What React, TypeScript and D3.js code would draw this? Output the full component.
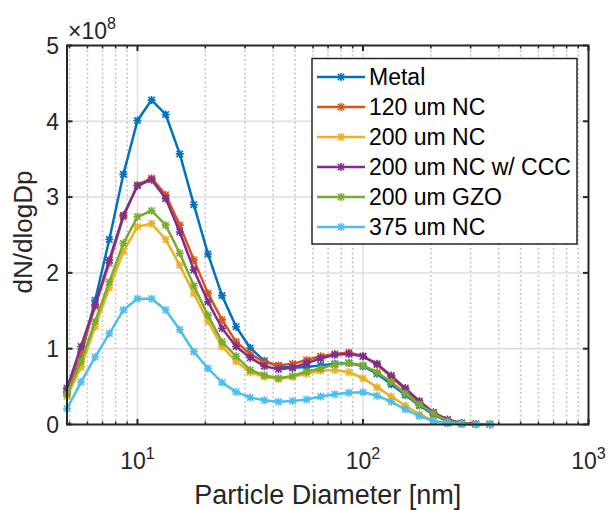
import React from 'react';
import * as d3 from 'd3';

// Particle diameter [nm] (SMPS channel midpoints)
const diameters = [4.87, 5.62, 6.49, 7.5, 8.66, 10.0, 11.55, 13.34, 15.4, 17.78, 20.54, 23.71, 27.38, 31.62, 36.52, 42.17, 48.7, 56.23, 64.94, 74.99, 86.6, 100.0, 115.5, 133.4, 154.0, 177.8, 205.4, 237.1, 273.8, 316.2, 365.2];

// dN/dlogDp in units of 1e8
const metal = [0.42, 0.9, 1.64, 2.44, 3.3, 4.01, 4.28, 4.09, 3.57, 2.9, 2.25, 1.7, 1.29, 1.01, 0.84, 0.77, 0.75, 0.76, 0.78, 0.8, 0.81, 0.77, 0.67, 0.53, 0.39, 0.25, 0.13, 0.04, 0.012, 0.005, 0.002];
const nc120 = [0.43, 0.96, 1.56, 2.13, 2.74, 3.16, 3.25, 3.03, 2.63, 2.17, 1.73, 1.38, 1.09, 0.93, 0.82, 0.78, 0.8, 0.85, 0.9, 0.93, 0.95, 0.9, 0.79, 0.63, 0.46, 0.29, 0.14, 0.05, 0.015, 0.005, 0.002];
const nc200 = [0.37, 0.76, 1.29, 1.8, 2.28, 2.61, 2.65, 2.44, 2.1, 1.73, 1.36, 1.03, 0.83, 0.69, 0.63, 0.6, 0.63, 0.67, 0.71, 0.72, 0.69, 0.61, 0.49, 0.37, 0.25, 0.135, 0.05, 0.015, 0.005, 0.003, 0.001];
const nc200ccc = [0.48, 1.03, 1.58, 2.17, 2.76, 3.15, 3.23, 2.98, 2.54, 2.04, 1.62, 1.27, 1.03, 0.88, 0.77, 0.73, 0.75, 0.81, 0.87, 0.92, 0.93, 0.9, 0.8, 0.645, 0.48, 0.31, 0.16, 0.065, 0.02, 0.006, 0.002];
const gzo200 = [0.4, 0.83, 1.36, 1.88, 2.39, 2.74, 2.82, 2.63, 2.26, 1.83, 1.44, 1.09, 0.9, 0.72, 0.65, 0.61, 0.64, 0.7, 0.74, 0.79, 0.815, 0.78, 0.69, 0.56, 0.41, 0.265, 0.145, 0.045, 0.012, 0.004, 0.002];
const nc375 = [0.21, 0.56, 0.89, 1.2, 1.51, 1.66, 1.66, 1.51, 1.25, 0.96, 0.74, 0.555, 0.43, 0.355, 0.32, 0.3, 0.31, 0.33, 0.37, 0.4, 0.42, 0.425, 0.38, 0.3, 0.2, 0.11, 0.045, 0.015, 0.005, 0.002, 0.001];

const seriesNames = ['Metal', '120 um NC', '200 um NC', '200 um NC w/ CCC', '200 um GZO', '375 um NC'];
const seriesValues = [metal, nc120, nc200, nc200ccc, gzo200, nc375];
const seriesColors = ['#0072BD', '#D95319', '#EDB120', '#7E2F8E', '#77AC30', '#4DBEEE'];

const yTicks = [0, 1, 2, 3, 4, 5];
const xMajorTicks = [10, 100, 1000];
const xTickExponents = ['1', '2', '3'];
const xMinorTicks = [5, 6, 7, 8, 9, 20, 30, 40, 50, 60, 70, 80, 90, 200, 300, 400, 500, 600, 700, 800, 900];
const xDomain = [4.87, 1000];
const yDomain = [0, 5];

const FONT = '"Liberation Sans", Arial, Helvetica, sans-serif';
const AXIS = '#262626';

const starPath = 'M-3.2,-3.2L3.2,3.2M-3.2,3.2L3.2,-3.2M0,-4L0,4M-4,0L4,0';

export default function App() {
  const W = 608, H = 510;
  const left = 67, right = 588.5, top = 45.5, bottom = 424.5;
  const x = d3.scaleLog().domain(xDomain).range([left, right]);
  const y = d3.scaleLinear().domain(yDomain).range([bottom, top]);
  const line = d3.line<number>().x((_, i) => x(diameters[i])).y((d) => y(d));

  const legX = 312, legY = 58.5, legW = 265, legH = 185.5;

  return (
    <svg width={W} height={H} style={{ position: 'absolute', left: 0, top: 0, display: 'block', background: '#fff' }} fontFamily={FONT}>
      <rect x={0} y={0} width={W} height={H} fill="#fff" />
      {/* grid */}
      {xMinorTicks.map((t) => (
        <line key={'mg' + t} x1={x(t)} x2={x(t)} y1={top} y2={bottom} stroke="#c4c4c4" strokeWidth={1.5} strokeDasharray="2 2.5" />
      ))}
      {xMajorTicks.filter((t) => t < 1000).map((t) => (
        <line key={'Mg' + t} x1={x(t)} x2={x(t)} y1={top} y2={bottom} stroke="#dedede" strokeWidth={1.5} />
      ))}
      {yTicks.filter((t) => t > 0 && t < 5).map((t) => (
        <line key={'yg' + t} x1={left} x2={right} y1={y(t)} y2={y(t)} stroke="#dedede" strokeWidth={1.5} />
      ))}
      {/* ticks */}
      {xMinorTicks.map((t) => (
        <g key={'mt' + t}>
          <line x1={x(t)} x2={x(t)} y1={bottom} y2={bottom - 3} stroke={AXIS} strokeWidth={1.5} />
          <line x1={x(t)} x2={x(t)} y1={top} y2={top + 3} stroke={AXIS} strokeWidth={1.5} />
        </g>
      ))}
      {xMajorTicks.map((t) => (
        <g key={'Mt' + t}>
          <line x1={x(t)} x2={x(t)} y1={bottom} y2={bottom - 5.5} stroke={AXIS} strokeWidth={2} />
          <line x1={x(t)} x2={x(t)} y1={top} y2={top + 5.5} stroke={AXIS} strokeWidth={2} />
        </g>
      ))}
      {yTicks.map((t) => (
        <g key={'yt' + t}>
          <line x1={left} x2={left + 5.5} y1={y(t)} y2={y(t)} stroke={AXIS} strokeWidth={2} />
          <line x1={right} x2={right - 5.5} y1={y(t)} y2={y(t)} stroke={AXIS} strokeWidth={2} />
        </g>
      ))}
      {/* series */}
      {seriesValues.map((vals, si) => (
        <g key={'s' + si}>
          <path d={line(vals) || ''} fill="none" stroke={seriesColors[si]} strokeWidth={2.5} strokeLinejoin="round" />
          {vals.map((v, i) => (
            <path key={i} d={starPath} transform={`translate(${x(diameters[i])},${y(v)})`} stroke={seriesColors[si]} strokeWidth={1.6} fill="none" />
          ))}
        </g>
      ))}
      {/* box */}
      <rect x={left} y={top} width={right - left} height={bottom - top} fill="none" stroke={AXIS} strokeWidth={2} />
      {/* y tick labels */}
      {yTicks.map((t) => (
        <text key={'yl' + t} x={59} y={y(t) + 8.3} fontSize={23} textAnchor="end" fill={AXIS}>{t}</text>
      ))}
      {/* x tick labels */}
      {xMajorTicks.map((t, i) => (
        <text key={'xl' + t} x={x(t)} y={469} fontSize={23} textAnchor="middle" fill={AXIS}>
          10<tspan dy={-10} fontSize={16}>{xTickExponents[i]}</tspan>
        </text>
      ))}
      {/* exponent */}
      <text x={68} y={39} fontSize={23} fill={AXIS}>
        ×10<tspan dy={-10} fontSize={16}>8</tspan>
      </text>
      {/* axis labels */}
      <text x={(left + right) / 2} y={504} fontSize={27} textAnchor="middle" fill={AXIS}>Particle Diameter [nm]</text>
      <text transform={`translate(32,232) rotate(-90)`} fontSize={26} textAnchor="middle" fill={AXIS}>dN/dlogDp</text>
      {/* legend */}
      <rect x={legX} y={legY} width={legW} height={legH} fill="#fff" stroke={AXIS} strokeWidth={1.5} />
      {seriesNames.map((name, i) => {
        const ly = 77 + 30 * i;
        return (
          <g key={'lg' + i}>
            <line x1={317} x2={365} y1={ly} y2={ly} stroke={seriesColors[i]} strokeWidth={2.5} />
            <path d={starPath} transform={`translate(341,${ly})`} stroke={seriesColors[i]} strokeWidth={1.6} fill="none" />
            <text x={369} y={ly + 8.2} fontSize={23} fill="#000">{name}</text>
          </g>
        );
      })}
    </svg>
  );
}
